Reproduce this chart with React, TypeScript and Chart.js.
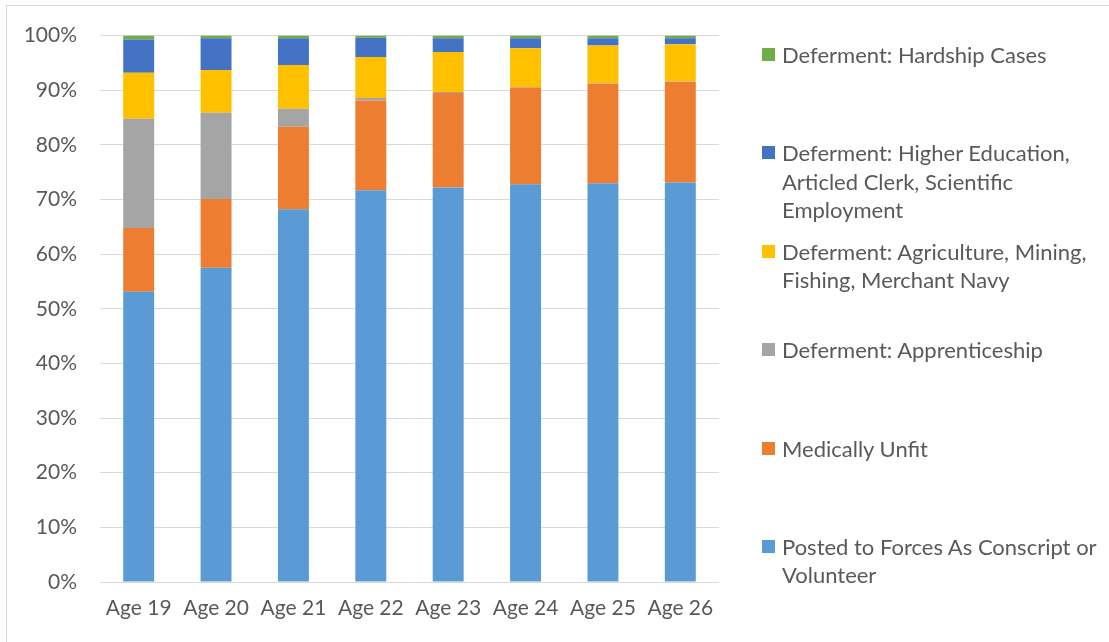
import React, { useEffect, useRef } from "react";
import { Chart, registerables } from "chart.js";

Chart.register(...registerables);

const categories = ["Age 19", "Age 20", "Age 21", "Age 22", "Age 23", "Age 24", "Age 25", "Age 26"];
const posted = [53.1, 57.5, 68.2, 71.7, 72.2, 72.8, 73.0, 73.1];
const medical = [11.7, 12.6, 15.1, 16.4, 17.3, 17.7, 18.2, 18.4];
const apprentice = [20.0, 15.8, 3.3, 0.5, 0.2, 0.1, 0.1, 0.1];
const agriculture = [8.4, 7.8, 8.0, 7.5, 7.3, 7.1, 6.9, 6.8];
const higherEd = [6.1, 5.8, 4.9, 3.5, 2.5, 1.8, 1.3, 1.1];
const hardship = [0.7, 0.5, 0.5, 0.4, 0.5, 0.5, 0.5, 0.5];
const yTicks = [0, 10, 20, 30, 40, 50, 60, 70, 80, 90, 100];

const seriesNames = [
  "Posted to Forces As Conscript or Volunteer",
  "Medically Unfit",
  "Deferment: Apprenticeship",
  "Deferment: Agriculture, Mining, Fishing, Merchant Navy",
  "Deferment: Higher Education, Articled Clerk, Scientific Employment",
  "Deferment: Hardship Cases",
];
const legendLines = [
  ["Posted to Forces As Conscript or", "Volunteer"],
  ["Medically Unfit"],
  ["Deferment: Apprenticeship"],
  ["Deferment: Agriculture, Mining,", "Fishing, Merchant Navy"],
  ["Deferment: Higher Education,", "Articled Clerk, Scientific", "Employment"],
  ["Deferment: Hardship Cases"],
];
const seriesValues = [posted, medical, apprentice, agriculture, higherEd, hardship];
const seriesColors = ["#5B9BD5", "#ED7D31", "#A5A5A5", "#FFC000", "#4472C4", "#70AD47"];

const FONT = "Lato, 'Open Sans', sans-serif";
const TEXT = "#595959";

export default function App() {
  const ref = useRef<HTMLCanvasElement | null>(null);

  useEffect(() => {
    if (!ref.current) return;
    const chart = new Chart(ref.current, {
      type: "bar",
      data: {
        labels: categories,
        datasets: seriesValues.map((vals, i) => ({
          label: seriesNames[i],
          data: vals,
          backgroundColor: seriesColors[i],
          borderWidth: 0,
          barPercentage: 0.4,
          categoryPercentage: 1,
        })),
      },
      options: {
        responsive: false,
        animation: false,
        layout: { padding: { left: 0, top: 34, right: 390, bottom: 0 } },
        plugins: { legend: { display: false }, tooltip: { enabled: false } },
        scales: {
          x: {
            stacked: true,
            grid: { display: false, drawTicks: false },
            border: { display: false },
            ticks: { color: TEXT, font: { family: FONT, size: 21 }, padding: 14 },
            afterFit: (s: any) => {
              s.height = 60;
            },
          },
          y: {
            stacked: true,
            min: 0,
            max: 100,
            afterBuildTicks: (s: any) => {
              s.ticks = yTicks.map((v) => ({ value: v }));
            },
            grid: { color: "#D9D9D9", lineWidth: 1, drawTicks: false },
            border: { display: false },
            ticks: {
              color: TEXT,
              font: { family: FONT, size: 21 },
              padding: 23,
              callback: (v: any) => v + "%",
            },
            afterFit: (s: any) => {
              s.width = 100;
            },
          },
        },
      },
    });
    return () => chart.destroy();
  }, []);

  const order = [5, 4, 3, 2, 1, 0];

  return (
    <div>
      <div
        style={{
          position: "absolute",
          left: 6,
          top: 5,
          width: 1200,
          height: 700,
          border: "1px solid #D9D9D9",
          boxSizing: "border-box",
        }}
      />
      <canvas
        ref={ref}
        width={1109}
        height={642}
        style={{ position: "absolute", left: 0, top: 0, width: 1109, height: 642 }}
      />
      {order.map((si, k) => {
        const center = 55 + k * 98.4;
        return (
          <div
            key={si}
            style={{
              position: "absolute",
              left: 762,
              top: center - 14,
              fontFamily: FONT,
              fontSize: 22,
              lineHeight: "28.3px",
              color: TEXT,
              whiteSpace: "nowrap",
            }}
          >
            <span
              style={{
                position: "absolute",
                left: 0,
                top: 7,
                width: 13,
                height: 13,
                background: seriesColors[si],
              }}
            />
            <div style={{ marginLeft: 20 }}>
              {legendLines[si].map((ln, j) => (
                <div key={j}>{ln}</div>
              ))}
            </div>
          </div>
        );
      })}
    </div>
  );
}
